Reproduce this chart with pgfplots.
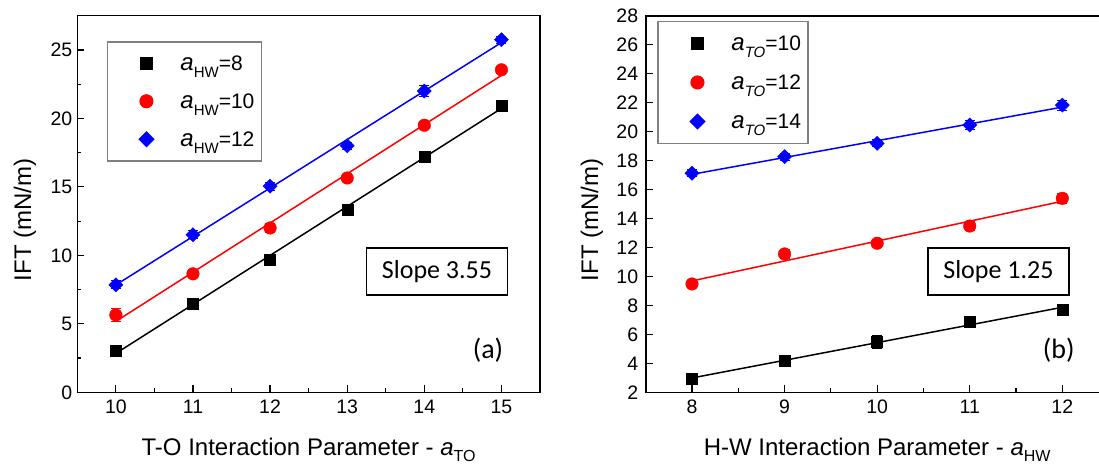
\documentclass[border=0pt]{standalone}
\usepackage{pgfplots}
\pgfplotsset{compat=1.18}
\usepackage{fontspec}
\setmainfont{Liberation Sans}
\newfontfamily\calibri{Carlito}
\newcommand{\fs}[1]{\fontsize{#1}{#1}\selectfont}
\newcommand{\leg}[2]{{\fs{24}\itshape a}\raisebox{-7pt}{\fs{15}#1}{\fs{21}=#2}}

\pgfplotstableread{
x y ey
10 3.05 0.25
11 6.5 0.25
12 9.7 0.3
13 13.3 0.3
14 17.2 0.3
15 20.95 0.35
}\LA
\pgfplotstableread{
x y ey
10 5.65 0.45
11 8.65 0.25
12 12.0 0.3
13 15.65 0.25
14 19.5 0.25
15 23.55 0.25
}\LB
\pgfplotstableread{
x y ey
10 7.85 0.3
11 11.5 0.3
12 15.05 0.3
13 18.0 0.25
14 22.0 0.4
15 25.75 0.25
}\LC
\pgfplotstableread{
x y ey
8 2.92 0.25
9 4.18 0.25
10 5.49 0.45
11 6.87 0.25
12 7.68 0.3
}\RA
\pgfplotstableread{
x y ey
8 9.48 0.25
9 11.55 0.3
10 12.29 0.25
11 13.48 0.3
12 15.39 0.35
}\RB
\pgfplotstableread{
x y ey
8 17.12 0.25
9 18.27 0.25
10 19.19 0.25
11 20.45 0.3
12 21.83 0.35
}\RC

\pgfplotsset{
  myax/.style={
    scale only axis, height=376.6pt,
    axis line style={line width=1.6pt},
    every tick/.style={line width=1.2pt, black},
    tick align=inside, xtick pos=left, ytick pos=left,
    major tick length=7pt, minor tick length=4pt,
    ticklabel style={font=\fs{19.5}},
    /pgf/number format/assume math mode=true,
    xticklabel style={yshift=-4.5pt},
    yticklabel style={xshift=-1.5pt},
    label style={font=\fs{24}},
    legend cell align=left,
  },
  emark/.style={only marks,
    error bars/.cd, y dir=both, y explicit,
    error bar style={line width=1pt},
    error mark options={rotate=90, mark size=5pt, line width=1pt}},
  fitl/.style={line width=1.5pt, forget plot},
}

\begin{document}
\begin{tikzpicture}
\useasboundingbox (0,0) rectangle (1099pt,467pt);
\clip (0,0) rectangle (1099pt,467pt);
\begin{axis}[myax, at={(77.3pt,74.7pt)}, anchor=south west, width=462.7pt,
  xmin=9.5, xmax=15.5, ymin=0, ymax=27.5,
  xtick={10,11,12,13,14,15}, ytick={0,5,10,15,20,25},
  minor x tick num=1, minor y tick num=1,
  xlabel={T-O Interaction Parameter - {\itshape a}\raisebox{-6pt}{\fs{16}TO}},
  ylabel={IFT (mN/m)},
  xlabel style={at={(axis description cs:0.5,-0.169)}, anchor=base},
  ylabel style={at={(axis description cs:-0.113,0.4575)}, anchor=center},
  legend image code/.code={\node[anchor=center, draw=none, fill=none, inner sep=0pt, minimum width=62pt] at (-1pt,0pt) {}; \draw[#1] plot coordinates {(0pt,0pt)};},
  legend style={at={(axis description cs:0.0635,0.9328)}, anchor=north west,
    draw=gray, line width=1.5pt, inner xsep=7pt, inner ysep=11pt,
    row sep=17pt, column sep=4pt,
    nodes={inner sep=0pt, text height=18pt, text depth=3pt}},
]
\addplot[black, fitl] coordinates {(10,2.84) (15,20.73)};
\addplot[red, fitl] coordinates {(10,5.18) (15,23.14)};
\addplot[blue, fitl] coordinates {(10,7.84) (15,25.54)};
\addplot[black, mark=square*, mark size=5.5pt, mark options={solid}, emark] table[y error=ey] {\LA};
\addlegendentry{\leg{HW}{8}}
\addplot[red, mark=*, mark size=6.3pt, mark options={solid}, emark] table[y error=ey] {\LB};
\addlegendentry{\leg{HW}{10}}
\addplot[blue, mark=square*, mark size=5pt, mark options={solid, rotate=45}, emark] table[y error=ey] {\LC};
\addlegendentry{\leg{HW}{12}}
\node[draw, line width=1.5pt, minimum width=141pt, minimum height=47pt, inner sep=0pt, font=\calibri\fs{26}] at (axis description cs:0.7774,0.3208) {Slope 3.55};
\node[font=\calibri\fs{28}] at (axis description cs:0.8876,0.1123) {(a)};
\end{axis}

\begin{axis}[myax, at={(645.7pt,74.7pt)}, anchor=south west, width=462.9pt,
  xmin=7.5, xmax=12.5, ymin=2, ymax=28,
  xtick={8,9,10,11,12}, ytick={2,4,...,28},
  minor x tick num=1, minor y tick num=0,
  yticklabel style={xshift=-2.5pt},
  xlabel={H-W Interaction Parameter - {\itshape a}\raisebox{-6pt}{\fs{16}HW}},
  ylabel={IFT (mN/m)},
  xlabel style={at={(axis description cs:0.5,-0.169)}, anchor=base},
  ylabel style={at={(axis description cs:-0.116,0.4575)}, anchor=center},
  legend image code/.code={\node[anchor=center, draw=none, fill=none, inner sep=0pt, minimum width=62.7pt] at (-1.35pt,0pt) {}; \draw[#1] plot coordinates {(0pt,0pt)};},
  legend style={at={(axis description cs:0.0244,0.9867)}, anchor=north west,
    draw=gray, line width=1.5pt, inner xsep=7pt, inner ysep=11.5pt,
    row sep=18pt, column sep=4pt,
    nodes={inner sep=0pt, text height=18pt, text depth=3pt}},
]
\addplot[black, fitl] coordinates {(8,2.99) (12,7.87)};
\addplot[red, fitl] coordinates {(8,9.69) (12,15.19)};
\addplot[blue, fitl] coordinates {(8,17.05) (12,21.69)};
\addplot[black, mark=square*, mark size=5.5pt, mark options={solid}, emark] table[y error=ey] {\RA};
\addlegendentry{\leg{\itshape TO}{10}}
\addplot[red, mark=*, mark size=6.3pt, mark options={solid}, emark] table[y error=ey] {\RB};
\addlegendentry{\leg{\itshape TO}{12}}
\addplot[blue, mark=square*, mark size=5pt, mark options={solid, rotate=45}, emark] table[y error=ey] {\RC};
\addlegendentry{\leg{\itshape TO}{14}}
\node[draw, line width=1.5pt, minimum width=141pt, minimum height=47pt, inner sep=0pt, font=\calibri\fs{26}] at (axis description cs:0.762,0.3208) {Slope 1.25};
\node[font=\calibri\fs{28}] at (axis description cs:0.8924,0.1123) {(b)};
\end{axis}
\end{tikzpicture}
\end{document}
